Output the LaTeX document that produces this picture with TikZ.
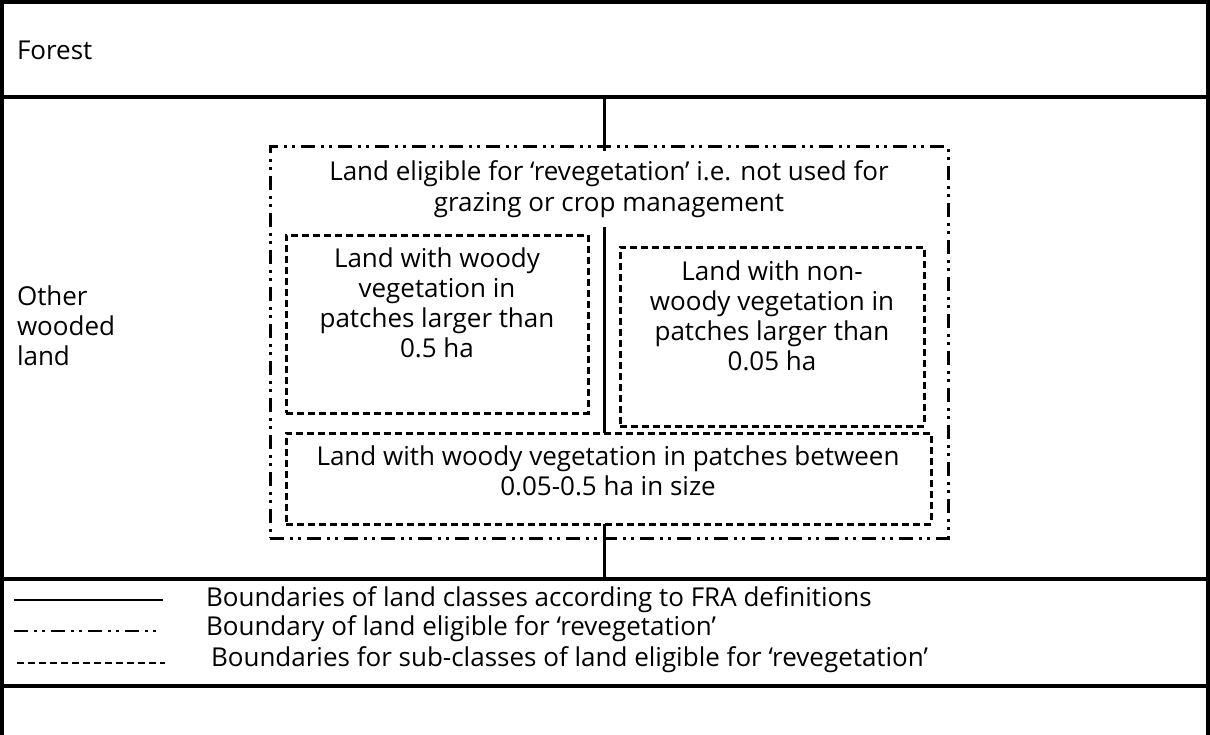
\documentclass[tikz,border=0pt]{standalone}
\usepackage{fontspec}
\setmainfont{Open Sans}
\begin{document}
\begin{tikzpicture}[x=1bp,y=-1bp,
  every node/.style={font=\fontsize{26bp}{30bp}\selectfont, inner sep=0pt, outer sep=0pt},
  classline/.style={line width=4bp},
  midline/.style={line width=3bp},
  eligline/.style={line width=3bp, dash pattern=on 14bp off 6bp on 3bp off 5bp on 3bp off 6bp},
  subline/.style={line width=3bp, dash pattern=on 7bp off 4bp},
  boxnode/.style={draw, anchor=north west},
  txt/.style={align=center, anchor=north},
]
\useasboundingbox (0,0) rectangle (1210,735);

% outer frame and class boundaries
\coordinate (bl) at (2,735);
\coordinate (tl) at (2,2);
\coordinate (tr) at (1208,2);
\coordinate (br) at (1208,735);
\draw[classline] (bl) -- (tl) -- (tr) -- (br);
\coordinate (f1) at (2,97);   \coordinate (f2) at (1208,97);
\coordinate (o1) at (2,579);  \coordinate (o2) at (1208,579);
\coordinate (l1) at (2,686);  \coordinate (l2) at (1208,686);
\draw[classline] (f1) -- (f2);
\draw[classline] (o1) -- (o2);
\draw[classline] (l1) -- (l2);

% central vertical boundary
\coordinate (vtop) at (604,97);
\coordinate (vbot) at (604,579);
\draw[midline] (vtop) -- (vbot);

% class labels
\node[anchor=west] (forest) at (17,50) {Forest};
\node[anchor=west, align=left] (owl) at (17,326) {Other\\wooded\\land};

% eligible land
\node[align=center, fill=white, inner xsep=4bp, inner ysep=9bp, font=\fontsize{26bp}{31bp}\selectfont] (eligt) at (609,189)
  {Land eligible for ‘revegetation’ i.e. not used for\\grazing or crop management};
\node[boxnode, eligline, minimum width=678bp, minimum height=391bp] (elig) at (270,147) {};

% sub-classes
\node[boxnode, subline, minimum width=302bp, minimum height=178bp] (woody) at (286,235) {};
\node[txt] (woodyt) at (437,248) {Land with woody\\vegetation in\\patches larger than\\0.5 ha};

\node[boxnode, subline, minimum width=304bp, minimum height=179bp] (nonwoody) at (620,247) {};
\node[txt] (nonwoodyt) at (772,261) {Land with non-\\woody vegetation in\\patches larger than\\0.05 ha};

\node[boxnode, subline, fill=white, minimum width=645bp, minimum height=91bp] (small) at (286,433) {};
\node[txt] (smallt) at (608,446) {Land with woody vegetation in patches between\\0.05-0.5 ha in size};

% legend
\coordinate (s1) at (14,600);  \coordinate (s2) at (163,600);
\coordinate (d1) at (14,631);  \coordinate (d2) at (162,631);
\coordinate (e1) at (17,663);  \coordinate (e2) at (165,663);
\draw[line width=2bp] (s1) -- (s2);
\draw[line width=2bp, dash pattern=on 14bp off 6bp on 3bp off 5bp on 3bp off 6bp] (d1) -- (d2);
\draw[line width=2bp, dash pattern=on 7bp off 4bp] (e1) -- (e2);
\node[anchor=west] (legs) at (206,600) {Boundaries of land classes according to FRA definitions};
\node[anchor=west] (legd) at (206,629) {Boundary of land eligible for ‘revegetation’};
\node[anchor=west] (lege) at (211,660) {Boundaries for sub-classes of land eligible for ‘revegetation’};
\end{tikzpicture}
\end{document}
